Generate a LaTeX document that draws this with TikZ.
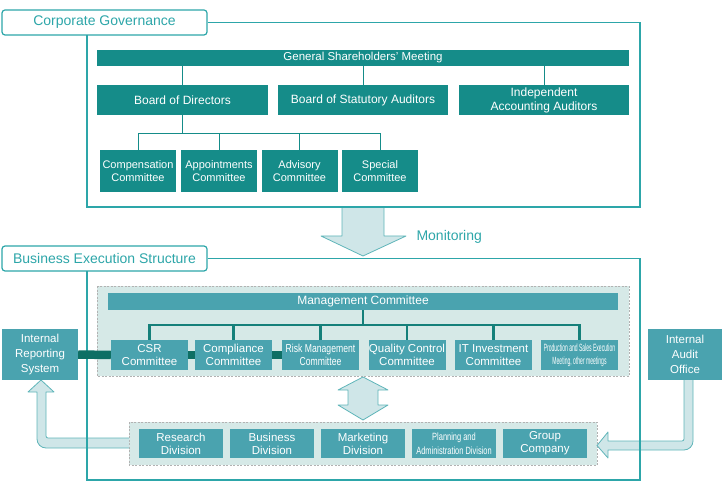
\documentclass[tikz,border=0pt]{standalone}
\usepackage{fontspec}
\setmainfont{Liberation Sans}
\usepackage{graphicx}

\definecolor{govteal}{HTML}{158C89}
\definecolor{exeteal}{HTML}{4AA3AF}
\definecolor{frameteal}{HTML}{2DA6A9}
\definecolor{areafill}{HTML}{D6E9E7}
\definecolor{arrowfill}{HTML}{CFE6E8}
\definecolor{arrowline}{HTML}{5FB5B9}
\definecolor{linkdark}{HTML}{0E6F64}
\definecolor{treedark}{HTML}{15807A}

\newcommand{\narrow}[1]{\scalebox{0.48}[1]{#1}}
\newcommand{\slim}[1]{\scalebox{0.75}[1]{#1}}
\newcommand{\semislim}[1]{\scalebox{0.71}[1]{#1}}

\begin{document}
\begin{tikzpicture}[x=1pt,y=-1pt,
	govbox/.style={fill=govteal,text=white,inner sep=0pt,align=center,font=\fontsize{11}{13}\selectfont},
	exebox/.style={fill=exeteal,text=white,inner sep=0pt,align=center,font=\fontsize{11.5}{13}\selectfont},
	tabbox/.style={draw=frameteal,line width=1.2pt,fill=white,rounded corners=3pt,text=frameteal,minimum width=205pt,minimum height=25pt,inner sep=0pt,font=\fontsize{14}{16}\selectfont},
	frame/.style={draw=frameteal,line width=1.2pt},
	dasharea/.style={fill=areafill,draw=gray!60,line width=0.7pt,dash pattern=on 2pt off 1.5pt},
	blockarrow/.style={fill=arrowfill,draw=arrowline,line width=0.8pt,line join=round},
	govline/.style={draw=govteal,line width=1pt},
	treeline/.style={draw=treedark,line width=2.5pt},
	darklink/.style={draw=linkdark,line width=8.5pt}]
\useasboundingbox (0,0) rectangle (722,486);

% shaded areas
\draw[dasharea] (97,286) rectangle (629,376); % management area
\draw[dasharea] (129,422) rectangle (597,465); % divisions area

% block arrows
\draw[blockarrow] (342,207) -- (384,207) -- (384,236) -- (406,236) -- (363,256) -- (321,236) -- (342,236) -- cycle; % monitoring
\draw[blockarrow] (363,377) -- (388,390) -- (378,390) -- (378,405) -- (388,405) -- (363,420) -- (338,405) -- (348,405) -- (348,390) -- (338,390) -- cycle; % both ways
\draw[blockarrow] (129,438) [rounded corners=2pt] -- (46,438) [sharp corners] -- (46,392) -- (54,392) -- (41,380) -- (28,392) -- (37,392) [rounded corners=9pt] -- (37,448) [sharp corners] -- (129,448); % to reporting
\draw[blockarrow] (684,380) [rounded corners=2pt] -- (684,441) [sharp corners] -- (608,441) -- (608,432) -- (597,445.5) -- (608,458) -- (608,450) [rounded corners=9pt] -- (693,450) [sharp corners] -- (693,380); % from audit

% frames and tabs
\node[tabbox] (cg) at (104.5,22.5) {Corporate Governance};
\draw[frame] (cg.east) -- (640,22.5) -- (640,207) -- (87,207) -- (87,35);
\node[tabbox] (bes) at (104.5,258.5) {Business Execution Structure};
\draw[frame] (bes.east) -- (640,258.5) -- (640,480) -- (87,480) -- (87,271);

\node[text=frameteal,anchor=west,font=\fontsize{14}{16}\selectfont] (mon) at (413,237) {Monitoring};

% corporate governance
\node[govbox,minimum width=532pt,minimum height=16pt,font=\fontsize{11.5}{13}\selectfont] (gsm) at (363,58) {General Shareholders’ Meeting};
\node[govbox,minimum width=171pt,minimum height=30pt,font=\fontsize{12}{14}\selectfont] (bod) at (182.5,100) {Board of Directors};
\node[govbox,minimum width=170pt,minimum height=30pt,font=\fontsize{12}{14}\selectfont] (bsa) at (363,100) {Board of Statutory Auditors};
\node[govbox,minimum width=170pt,minimum height=30pt,font=\fontsize{12}{14}\selectfont] (iaa) at (544,100) {Independent\\Accounting Auditors};

\node[govbox,minimum width=76pt,minimum height=42pt] (comp) at (138,171) {Compensation\\Committee};
\node[govbox,minimum width=76pt,minimum height=42pt] (appt) at (219,171) {Appointments\\Committee};
\node[govbox,minimum width=76pt,minimum height=42pt] (adv) at (299.5,171) {Advisory\\Committee};
\node[govbox,minimum width=76pt,minimum height=42pt] (spec) at (380,171) {Special\\Committee};

\coordinate (j1) at (182.5,134);
\draw[govline] (gsm.south -| bod) -- (bod.north);
\draw[govline] (gsm.south -| bsa) -- (bsa.north);
\draw[govline] (gsm.south -| iaa) -- (iaa.north);
\draw[govline] (bod.south) -- (j1);
\draw[govline] (comp.north) -- (comp.north |- j1) -- (spec.north |- j1) -- (spec.north);
\draw[govline] (appt.north) -- (appt.north |- j1);
\draw[govline] (adv.north) -- (adv.north |- j1);

% business execution
\node[exebox,minimum width=510pt,minimum height=17pt,font=\fontsize{12}{14}\selectfont] (mc) at (363,301.5) {Management Committee};
\node[exebox,minimum width=77pt,minimum height=30pt] (csr) at (149.5,355) {CSR\\Committee};
\node[exebox,minimum width=77pt,minimum height=30pt] (cmpl) at (233.5,355) {Compliance\\Committee};
\node[exebox,minimum width=77pt,minimum height=30pt] (risk) at (320.5,355) {\slim{Risk Management}\\\slim{Committee}};
\node[exebox,minimum width=77pt,minimum height=30pt] (qc) at (407,355) {Quality Control\\Committee};
\node[exebox,minimum width=77pt,minimum height=30pt] (it) at (493.5,355) {IT Investment\\Committee};
\node[exebox,minimum width=77pt,minimum height=30pt,font=\fontsize{10.5}{13}\selectfont] (prod) at (579.5,355) {\narrow{Production and Sales Execution}\\\narrow{Meeting, other meetings}};

\coordinate (j2) at (363,325);
\draw[treeline] (mc.south) -- (j2);
\draw[treeline] (csr.north) -- (csr.north |- j2) -- (prod.north |- j2) -- (prod.north);
\foreach \c in {cmpl,risk,qc,it}
	\draw[treeline] (\c.north) -- (\c.north |- j2);

\node[exebox,minimum width=76pt,minimum height=51pt,font=\fontsize{11.5}{15}\selectfont] (irs) at (40,354.5) {Internal\\Reporting\\System};
\node[exebox,minimum width=74pt,minimum height=51pt,font=\fontsize{11.5}{15}\selectfont] (iao) at (685,354.5) {Internal\\Audit\\Office};

\draw[darklink] (irs.east) -- (csr.west);
\draw[darklink] (csr.east) -- (cmpl.west);
\draw[darklink] (cmpl.east) -- (risk.west);

\node[exebox,minimum width=84pt,minimum height=29pt] (res) at (181,443.5) {Research\\Division};
\node[exebox,minimum width=84pt,minimum height=29pt] (bus) at (272,443.5) {Business\\Division};
\node[exebox,minimum width=84pt,minimum height=29pt] (mkt) at (363,443.5) {Marketing\\Division};
\node[exebox,minimum width=84pt,minimum height=29pt,font=\fontsize{10.5}{14}\selectfont] (plan) at (454,443.5) {\semislim{Planning and}\\\semislim{Administration Division}};
\node[exebox,minimum width=84pt,minimum height=29pt] (grp) at (545,443.5) {Group\\Company};

\end{tikzpicture}
\end{document}
